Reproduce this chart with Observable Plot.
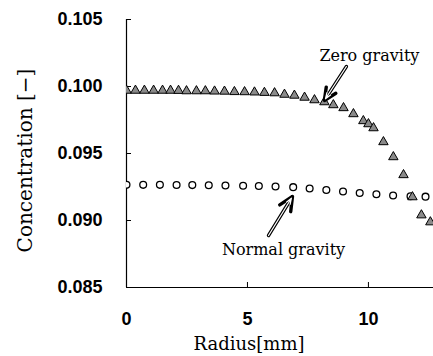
<!DOCTYPE html>
<html><head><meta charset="utf-8">
<script src="https://cdn.jsdelivr.net/npm/d3@7"></script>
<script src="https://cdn.jsdelivr.net/npm/@observablehq/plot@0.6"></script>
<style>html,body{margin:0;padding:0;background:#fff}#chart{width:433px;height:356px}</style>
</head><body><div id="chart"></div>
<script>
// Zero gravity (triangles)
const zeroR = [0, 0.37, 0.74, 1.12, 1.49, 1.82, 2.15, 2.48, 2.89, 3.26, 3.64, 4.05, 4.46, 4.88, 5.29, 5.70, 6.12, 6.53, 6.94, 7.36, 7.77, 8.18, 8.55, 8.97, 9.38, 9.79, 10.0, 10.21, 10.62, 11.03, 11.45, 11.82, 12.19, 12.56];
const zeroC = [0.09970, 0.09970, 0.09970, 0.09970, 0.09970, 0.09970, 0.09969, 0.09966, 0.09966, 0.09966, 0.09964, 0.09963, 0.09960, 0.09959, 0.09957, 0.09954, 0.09951, 0.09940, 0.09933, 0.09918, 0.09899, 0.09884, 0.09862, 0.09840, 0.09795, 0.09743, 0.09720, 0.09690, 0.09586, 0.09474, 0.09340, 0.09175, 0.09040, 0.08988];
// Normal gravity (circles)
const normR = [0, 0.69, 1.38, 2.07, 2.72, 3.40, 4.09, 4.82, 5.47, 6.16, 6.89, 7.57, 8.26, 8.95, 9.64, 10.33, 11.02, 11.74, 12.36];
const normC = [0.09266, 0.09266, 0.09266, 0.09265, 0.09264, 0.09263, 0.09261, 0.09259, 0.09257, 0.09254, 0.09249, 0.09239, 0.09228, 0.09216, 0.09205, 0.09196, 0.09187, 0.09181, 0.09178];

const xTicks = [0, 5, 10];
const yTicks = [0.085, 0.090, 0.095, 0.100, 0.105];
const xTitle = "Radius[mm]";
const yTitle = "Concentration [\u2212]";

// annotations
const annText = ["Zero gravity", "Normal gravity"];
const annX = [10.04, 6.49];
const annY = [0.10231, 0.08784];
const arrX1 = [9.09, 5.87];
const arrY1 = [0.10149, 0.08888];
const arrX2 = [8.18, 6.86];
const arrY2 = [0.09896, 0.09179];

const zero = zeroR.map((r, i) => ({r, c: zeroC[i]}));
const norm = normR.map((r, i) => ({r, c: normC[i]}));
const ann = annText.map((t, i) => ({t, x: annX[i], y: annY[i]}));
const arrows = arrX1.map((x1, i) => ({x1, y1: arrY1[i], x2: arrX2[i], y2: arrY2[i]}));

const tickFont = {fontSize: 18, fontFamily: "Liberation Sans, Arial, sans-serif", fontWeight: "bold"};
const serif = "DejaVu Serif, serif";

const chart = Plot.plot({
  width: 433, height: 356,
  marginLeft: 126, marginRight: 0, marginTop: 19, marginBottom: 69,
  style: {background: "#fff", color: "#000", overflow: "visible"},
  x: {domain: [0, 12.69]},
  y: {domain: [0.085, 0.105]},
  marks: [
    Plot.ruleX([0], {stroke: "#000", strokeWidth: 1.2}),
    Plot.ruleY([0.085], {stroke: "#000", strokeWidth: 1.2}),
    Plot.axisY({ticks: yTicks, tickSize: -5, tickPadding: 29, tickFormat: d3.format(".3f"), label: null, stroke: "#000", ...tickFont}),
    Plot.axisX({ticks: xTicks, tickSize: -5, tickPadding: 30, tickFormat: d3.format("d"), label: null, stroke: "#000", ...tickFont}),
    Plot.text([xTitle], {frameAnchor: "bottom", dx: -31, dy: 57, lineAnchor: "middle", fontSize: 18, fontFamily: serif}),
    Plot.text([yTitle], {frameAnchor: "left", rotate: -90, dx: -101, dy: 7, lineAnchor: "middle", textAnchor: "middle", fontSize: 20, fontFamily: serif}),
    Plot.dot(norm, {x: "r", y: "c", r: 3.4, fill: "#fff", stroke: "#000", strokeWidth: 1.3, clip: true}),
    Plot.dot(zero, {x: "r", y: "c", symbol: "triangle", r: 3.5, fill: "#8a8a8a", stroke: "#000", strokeWidth: 1, clip: true}),
    Plot.arrow(arrows, {x1: "x1", y1: "y1", x2: "x2", y2: "y2", stroke: "#000", strokeWidth: 3.4, headLength: 10, headAngle: 50}),
    Plot.arrow(arrows, {x1: "x1", y1: "y1", x2: "x2", y2: "y2", stroke: "#fff", strokeWidth: 1.2, headLength: 8, headAngle: 40, insetEnd: 2}),
    Plot.text(ann, {x: "x", y: "y", text: "t", fontSize: 16, fontFamily: serif, lineAnchor: "middle"})
  ]
});
document.getElementById("chart").appendChild(chart);
</script>
</body></html>
